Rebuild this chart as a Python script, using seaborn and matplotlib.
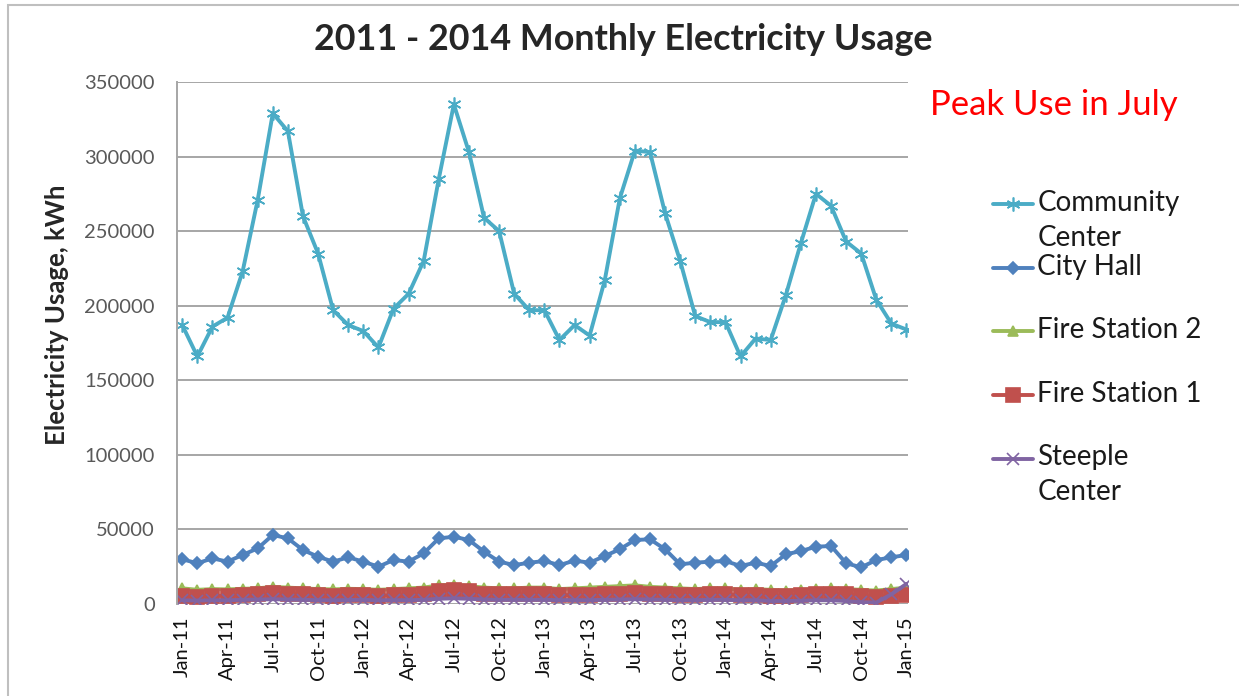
import numpy as np
import pandas as pd
import matplotlib
matplotlib.use("Agg")
import matplotlib.pyplot as plt
import seaborn as sns
from matplotlib.legend_handler import HandlerLine2D
from matplotlib.patches import Rectangle

# monthly usage, Jan-2011 .. Jan-2015 (kWh)
months = pd.date_range("2011-01-01", "2015-01-01", freq="MS")
month_labels = list(months.strftime("%b-%y"))

community_center = [187000, 166000, 186000, 192000, 223000, 271000, 329000, 317000, 260000, 235000, 197000, 187000,
                    183000, 172000, 198000, 208000, 230000, 285000, 335000, 303000, 259000, 250000, 208000, 197000,
                    197000, 177000, 187000, 180000, 217000, 272000, 304000, 303000, 262000, 230000, 193000, 189000,
                    189000, 166000, 178000, 177000, 207000, 242000, 275000, 267000, 243000, 235000, 204000, 188000,
                    184000]
city_hall = [30000, 27300, 30600, 28400, 32900, 37300, 46300, 44000, 36200, 31700, 28400, 31300,
             28400, 25000, 29500, 28400, 34000, 44000, 45100, 42900, 35100, 28400, 26100, 27700,
             28800, 26100, 29100, 27700, 32200, 36700, 42900, 43400, 36700, 26600, 27700, 28400,
             28800, 25500, 27700, 25500, 33300, 35500, 38400, 38900, 27300, 24600, 29500, 31300,
             32900]
fire_station_2 = [10500, 9500, 10000, 9800, 10200, 10500, 11500, 11000, 10500, 10000, 9800, 10200,
                  10000, 9500, 10000, 10500, 11000, 12500, 13000, 12000, 11000, 10500, 10500, 11000,
                  11000, 10000, 10500, 11000, 11500, 12000, 12500, 11500, 11000, 10500, 10000, 10500,
                  10500, 9500, 10000, 9500, 9000, 9500, 10000, 10500, 10000, 9500, 9000, 10000,
                  11000]
fire_station_1 = [5500, 5000, 5500, 5500, 6000, 6500, 7500, 7000, 6500, 6000, 5500, 6000,
                  6000, 5500, 6000, 6000, 7000, 9000, 9500, 9000, 7000, 6500, 6500, 6500,
                  6500, 6000, 6000, 6000, 6500, 7000, 7500, 7000, 6500, 6000, 6000, 6500,
                  6500, 6000, 6000, 5500, 5500, 6000, 7000, 7000, 6500, 5500, 5000, 5500,
                  6000]
steeple_center = [2500, 2300, 2500, 2500, 2800, 3000, 3200, 3000, 2800, 2600, 2500, 2700,
                  2800, 2500, 2600, 2600, 2800, 3500, 3800, 3500, 3000, 2800, 2800, 2800,
                  2800, 2600, 2600, 2600, 2800, 3000, 3200, 3000, 2800, 2600, 2600, 2800,
                  2800, 2500, 2600, 2000, 2000, 2200, 2500, 2500, 2000, 1200, 1000, 6500,
                  13500]

series_names = ["Community\nCenter", "City Hall\n ", "Fire Station 2\n ", "Fire Station 1\n ", "Steeple\nCenter"]
series_values = [community_center, city_hall, fire_station_2, fire_station_1, steeple_center]
colors = ["#4BACC6", "#4F81BD", "#9BBB59", "#C0504D", "#8064A2"]
markers = [(6, 2, 0), "D", "^", "s", "x"]
msizes = [10, 6.5, 7, 9.5, 8]

sns.set_style("white")
plt.rcParams["font.family"] = ["Lato", "DejaVu Sans"]

fig = plt.figure(figsize=(12.39, 6.96), dpi=100)
ax = fig.add_axes([177 / 1239, 1 - 604 / 696, (908 - 177) / 1239, (604 - 82) / 696])

x = np.arange(len(months))
for name, vals, c, m, ms in zip(series_names, series_values, colors, markers, msizes):
    sns.lineplot(x=x, y=vals, ax=ax, color=c, marker=m, markersize=ms,
                 markeredgecolor=c, markerfacecolor=c, markeredgewidth=1.2,
                 linewidth=2.8, label=name)

ax.set_xlim(-0.35, 48.1)
ax.set_ylim(0, 350000)
ax.set_yticks(np.arange(0, 350001, 50000))
ax.set_yticklabels([str(v) for v in range(0, 350001, 50000)])
ax.set_xticks(x[::3])
ax.set_xticklabels(month_labels[::3], rotation=90)
ax.tick_params(axis="y", labelsize=14.5, labelcolor="#595959", length=0, pad=16)
ax.tick_params(axis="x", labelsize=14.5, labelcolor="#111111", length=0, pad=9)
ax.yaxis.grid(True, color="#A6A6A6", linewidth=1.4)
ax.xaxis.grid(False)
for s in ["top", "right", "bottom"]:
    ax.spines[s].set_visible(False)
ax.spines["left"].set_color("#A6A6A6")
ax.spines["left"].set_linewidth(1.4)
ax.set_axisbelow(True)


class FirstLineHandler(HandlerLine2D):
    # put the legend key next to the first line of a two-line label
    def create_artists(self, *args, **kwargs):
        arts = super().create_artists(*args, **kwargs)
        for a in arts:
            a.set_ydata(np.asarray(a.get_ydata()) + 12.2)
        return arts


handles, labels = ax.get_legend_handles_labels()
ax.get_legend().remove()
leg = fig.legend(handles, labels, loc="upper left", bbox_to_anchor=(993 / 1239, 1 - 190 / 696),
                 frameon=False, fontsize=20, handlelength=1.45, handletextpad=0.15,
                 labelspacing=0.1, borderpad=0, borderaxespad=0,
                 handler_map={h: FirstLineHandler() for h in handles})
for t in leg.get_texts():
    t.set_linespacing(1.42)
    t.set_color("#1a1a1a")

fig.text(623 / 1239, 1 - 40 / 696, "2011 - 2014 Monthly Electricity Usage",
         ha="center", va="center", fontsize=25.8, fontweight="bold")
fig.text(57 / 1239, 1 - 315 / 696, "Electricity Usage, kWh", rotation=90,
         ha="center", va="center", fontsize=18.5, fontweight="bold")
fig.text(930 / 1239, 1 - 105 / 696, "Peak Use in July", ha="left", va="center",
         fontsize=25, color="#FF0000")

# chart border
fig.patches.append(Rectangle((8 / 1239, -0.1), 1.2, 0.1 + 1 - 5 / 696, transform=fig.transFigure,
                             fill=False, edgecolor="#BFBFBF", linewidth=1.5))

fig.savefig("out.png", dpi=100)
